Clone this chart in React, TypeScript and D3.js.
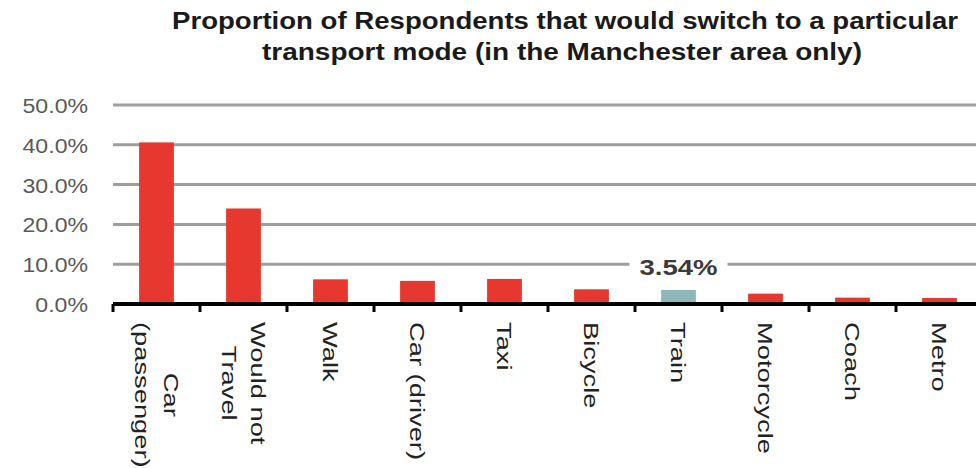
import React from "react";
import * as d3 from "d3";

const categories = [
  "Car (passenger)",
  "Would not Travel",
  "Walk",
  "Car (driver)",
  "Taxi",
  "Bicycle",
  "Train",
  "Motorcycle",
  "Coach",
  "Metro",
];
const categoryLines = [
  ["Car", "(passenger)"],
  ["Would not", "Travel"],
  ["Walk"],
  ["Car (driver)"],
  ["Taxi"],
  ["Bicycle"],
  ["Train"],
  ["Motorcycle"],
  ["Coach"],
  ["Metro"],
];
const values = [40.6, 24.0, 6.2, 5.8, 6.3, 3.7, 3.54, 2.6, 1.6, 1.5];
const highlighted = "Train";
const yTicks = [0, 10, 20, 30, 40, 50];
const titleLines = [
  "Proportion of Respondents that would switch to a particular",
  "transport mode (in the Manchester area only)",
];
const dataLabel = "3.54%";

const FONT = "'Liberation Sans', Arial, sans-serif";

function measure(text: string, size: number, weight = "normal") {
  const c = document.createElement("canvas").getContext("2d");
  if (!c) return text.length * size * 0.5;
  c.font = `${weight} ${size}px 'Liberation Sans'`;
  return c.measureText(text).width;
}

export default function App() {
  const W = 976;
  const H = 468;
  const left = 113;
  const step = 87;
  const x = d3
    .scaleBand<string>()
    .domain(categories)
    .range([left, left + step * categories.length])
    .paddingInner(0.6)
    .paddingOuter(0.3);
  const y = d3.scaleLinear().domain([0, 50]).range([304, 105]);

  const labelSize = 21;
  const labelStretch = 1.3;
  const labelTop = 322;

  const hlIdx = categories.indexOf(highlighted);
  const hlCenter = left + step * hlIdx + step / 2;

  return (
    <svg
      width={W}
      height={H}
      style={{ position: "absolute", left: 0, top: 0, background: "#fff" }}
      fontFamily={FONT}
    >
      <rect x={0} y={0} width={W} height={H} fill="#fff" />
      {titleLines.map((t, i) => (
        <text
          key={t}
          x={i === 0 ? 172 : 262}
          y={i === 0 ? 29 : 60}
          fontSize={23.5}
          fontWeight="bold"
          fill="#1a1a1a"
          textLength={i === 0 ? 786 : 600}
          lengthAdjust="spacingAndGlyphs"
        >
          {t}
        </text>
      ))}
      {yTicks.map((t) => (
        <g key={t}>
          {t > 0 && (
            <line
              x1={left}
              x2={W}
              y1={y(t)}
              y2={y(t)}
              stroke="#9e9e9e"
              strokeWidth={3}
            />
          )}
          <text
            transform={`translate(88,${y(t) + 8}) scale(1.1,1)`}
            textAnchor="end"
            fontSize={21}
            fill="#5a5a5a"
          >
            {d3.format(".1f")(t) + "%"}
          </text>
        </g>
      ))}
      {categories.map((c, i) => (
        <rect
          key={c}
          x={x(c)}
          y={y(values[i])}
          width={x.bandwidth()}
          height={y(0) - y(values[i])}
          fill={c === highlighted ? "#8fb6b8" : "#e6382e"}
        />
      ))}
      <line x1={left} x2={W} y1={y(0)} y2={y(0)} stroke="#000" strokeWidth={4} />
      {d3.range(categories.length + 1).map((i) => (
        <line
          key={i}
          x1={left + i * step}
          x2={left + i * step}
          y1={y(0)}
          y2={y(0) + 8}
          stroke="#000"
          strokeWidth={3}
        />
      ))}
      {categories.map((c, i) => {
        const lines = categoryLines[i];
        const center = (x(c) ?? 0) + x.bandwidth() / 2;
        const lens = lines.map((l) => measure(l, labelSize) * labelStretch);
        const maxLen = Math.max(...lens);
        const midY = labelTop + maxLen / 2;
        const n = lines.length;
        const lineGap = 29;
        return lines.map((l, j) => {
          const bx = center - 7.5 + ((n - 1) / 2 - j) * lineGap;
          return (
            <text
              key={c + j}
              transform={`translate(${bx},${midY}) rotate(90) scale(${labelStretch},1)`}
              textAnchor="middle"
              fontSize={labelSize}
              fill="#222"
            >
              {l}
            </text>
          );
        });
      })}
      <rect x={hlCenter - 49} y={257} width={98} height={20} fill="#fff" />
      <text
        x={hlCenter}
        y={275}
        textAnchor="middle"
        fontSize={22}
        fontWeight="bold"
        fill="#3a3a3a"
        textLength={78}
        lengthAdjust="spacingAndGlyphs"
      >
        {dataLabel}
      </text>
    </svg>
  );
}
